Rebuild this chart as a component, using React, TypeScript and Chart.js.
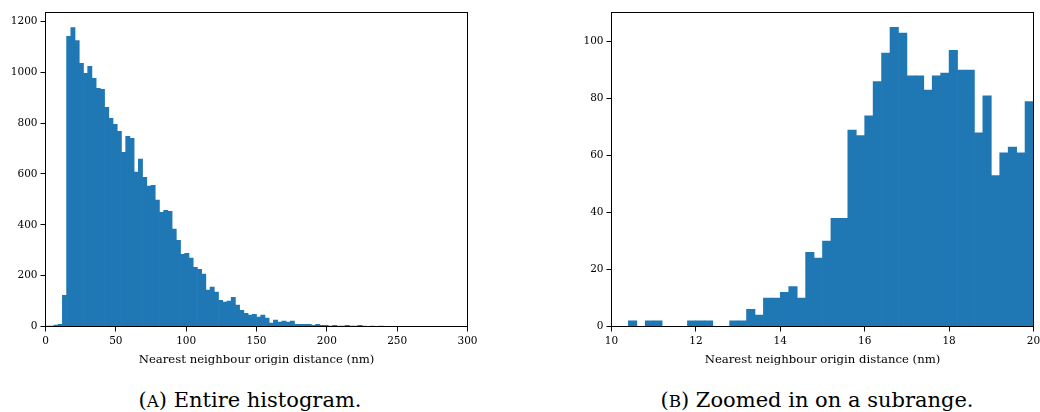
import React, { useEffect, useRef } from 'react';
import { Chart, registerables } from 'chart.js';

Chart.register(...registerables);

// ---------- data ----------
const leftBinStart = 0;
const leftBinWidth = 3;
const leftCounts = [
  1, 2, 6, 9, 123, 1141, 1176, 1125, 1035, 996,
  1023, 976, 937, 933, 862, 819, 795, 768, 685, 748,
  740, 607, 658, 587, 552, 555, 497, 449, 457, 453,
  383, 339, 284, 288, 269, 233, 225, 206, 143, 155,
  135, 103, 96, 100, 115, 84, 64, 52, 45, 48,
  37, 45, 33, 13, 25, 17, 21, 17, 21, 9,
  9, 9, 9, 5, 9, 5, 5, 2, 5, 1,
  1, 5, 1, 1, 5, 1, 0, 1, 0, 1,
  0, 0, 0, 0, 0, 0, 0, 0, 0, 0,
  0, 0, 0, 0, 0, 0, 0, 0, 0, 0,
];

const rightBinStart = 10;
const rightBinWidth = 0.2;
const rightCounts = [
  0, 0, 2, 0, 2, 2, 0, 0, 0, 2,
  2, 2, 0, 0, 2, 2, 6, 4, 10, 10,
  12, 14, 10, 26, 24, 30, 38, 38, 69, 67,
  74, 86, 96, 105, 103, 88, 88, 83, 88, 89,
  97, 90, 90, 68, 81, 53, 61, 63, 61, 79,
];

const leftXTicks = [0, 50, 100, 150, 200, 250, 300];
const leftYTicks = [0, 200, 400, 600, 800, 1000, 1200];
const rightXTicks = [10, 12, 14, 16, 18, 20];
const rightYTicks = [0, 20, 40, 60, 80, 100];

const xAxisLabel = 'Nearest neighbour origin distance (nm)';

const BAR_COLOR = '#1f77b4';
const FONT = "'DejaVu Serif', 'Liberation Serif', 'Noto Serif', serif";

const framePlugin = {
  id: 'frame',
  afterDraw(chart: any) {
    const { ctx, chartArea: a } = chart;
    ctx.save();
    ctx.strokeStyle = '#000';
    ctx.lineWidth = 1;
    ctx.strokeRect(a.left, a.top, a.right - a.left, a.bottom - a.top);
    ctx.restore();
  },
};

type Cfg = {
  counts: number[];
  start: number;
  width: number;
  xMin: number;
  xMax: number;
  yMax: number;
  xTicks: number[];
  yTicks: number[];
  yAxisWidth: number;
  padRight: number;
};

function makeConfig(c: Cfg): any {
  const data = c.counts.map((v, i) => ({ x: c.start + c.width * (i + 0.5), y: v }));
  const tickFont = { family: FONT, size: 10.5 };
  const fmt = (v: any) => String(v);
  return {
    type: 'bar',
    data: {
      datasets: [
        {
          data,
          backgroundColor: BAR_COLOR,
          borderWidth: 0,
          barPercentage: 1,
          categoryPercentage: 1,
        },
      ],
    },
    options: {
      animation: false,
      responsive: false,
      maintainAspectRatio: false,
      events: [],
      layout: { padding: { top: 12.5, left: 0, right: c.padRight, bottom: 0 } },
      plugins: { legend: { display: false }, tooltip: { enabled: false }, title: { display: false } },
      scales: {
        x: {
          type: 'linear',
          min: c.xMin,
          max: c.xMax,
          offset: false,
          grid: {
            display: true,
            drawOnChartArea: false,
            drawTicks: true,
            tickLength: 5,
            color: '#000',
            lineWidth: 1,
            offset: false,
          },
          border: { display: false },
          ticks: {
            font: tickFont,
            color: '#000',
            padding: 3,
            maxRotation: 0,
            autoSkip: false,
            callback: fmt,
          },
          afterBuildTicks: (s: any) => {
            s.ticks = c.xTicks.map((v) => ({ value: v }));
          },
          afterFit: (s: any) => {
            s.height = 43.5;
            s.paddingLeft = 0;
            s.paddingRight = 0;
          },
          title: {
            display: true,
            text: xAxisLabel,
            color: '#000',
            font: { family: FONT, size: 11.7 },
            padding: { top: 0, bottom: 3 },
          },
        },
        y: {
          type: 'linear',
          min: 0,
          max: c.yMax,
          grid: {
            display: true,
            drawOnChartArea: false,
            drawTicks: true,
            tickLength: 5,
            color: '#000',
            lineWidth: 1,
          },
          border: { display: false },
          ticks: {
            font: tickFont,
            color: '#000',
            padding: 3,
            autoSkip: false,
            includeBounds: false,
            callback: fmt,
          },
          afterBuildTicks: (s: any) => {
            s.ticks = c.yTicks.map((v) => ({ value: v }));
          },
          afterFit: (s: any) => {
            s.width = c.yAxisWidth;
            s.paddingTop = 0;
            s.paddingBottom = 0;
          },
        },
      },
    },
    plugins: [framePlugin],
  };
}

function Hist({ cfg, left }: { cfg: Cfg; left: number }) {
  const ref = useRef<HTMLCanvasElement | null>(null);
  useEffect(() => {
    if (!ref.current) return;
    const chart = new Chart(ref.current, makeConfig(cfg));
    return () => chart.destroy();
  }, []);
  return (
    <canvas
      ref={ref}
      width={520}
      height={370}
      style={{ position: 'absolute', left, top: 0, width: 520, height: 370 }}
    />
  );
}

const captionStyle: React.CSSProperties = {
  position: 'absolute',
  top: 388,
  width: 500,
  textAlign: 'center',
  fontFamily: FONT,
  fontSize: 21,
  lineHeight: '24px',
  color: '#000',
  whiteSpace: 'nowrap',
};

export default function App() {
  return (
    <div style={{ position: 'absolute', left: 0, top: 0, width: 1040, height: 412, background: '#fff', overflow: 'hidden' }}>
      <Hist
        left={0}
        cfg={{
          counts: leftCounts,
          start: leftBinStart,
          width: leftBinWidth,
          xMin: 0,
          xMax: 300,
          yMax: 1235,
          xTicks: leftXTicks,
          yTicks: leftYTicks,
          yAxisWidth: 45.5,
          padRight: 52.5,
        }}
      />
      <Hist
        left={520}
        cfg={{
          counts: rightCounts,
          start: rightBinStart,
          width: rightBinWidth,
          xMin: 10,
          xMax: 20,
          yMax: 110.25,
          xTicks: rightXTicks,
          yTicks: rightYTicks,
          yAxisWidth: 91.5,
          padRight: 6.5,
        }}
      />
      <div style={{ ...captionStyle, left: 0 }}>
        (<span style={{ fontSize: '0.8em' }}>A</span>) Entire histogram.
      </div>
      <div style={{ ...captionStyle, left: 567 }}>
        (<span style={{ fontSize: '0.8em' }}>B</span>) Zoomed in on a subrange.
      </div>
    </div>
  );
}
